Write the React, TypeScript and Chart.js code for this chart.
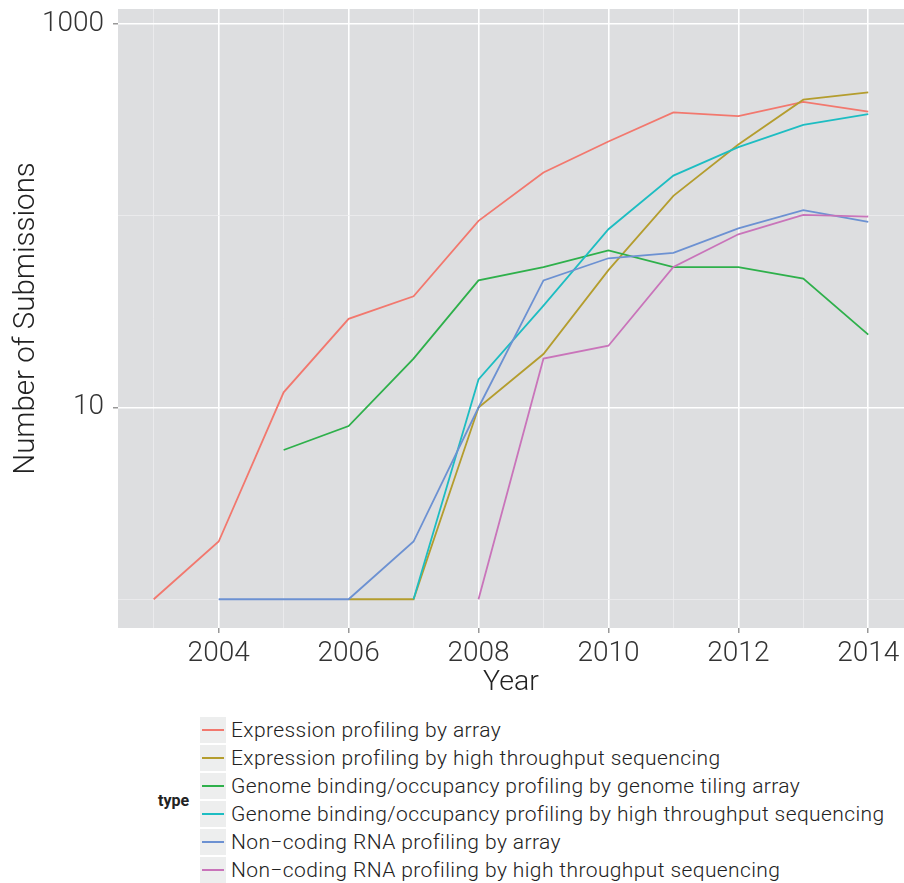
import React, { useEffect, useRef } from 'react';
import { Chart, registerables } from 'chart.js';

Chart.register(...registerables);

// ---- data ----
const years = [2003, 2004, 2005, 2006, 2007, 2008, 2009, 2010, 2011, 2012, 2013, 2014];
const exprArray = [1, 2, 12, 29, 38, 94, 168, 244, 346, 331, 392, 349];
const exprHTS = [null, null, null, 1, 1, 10, 19, 52, 127, 235, 403, 440];
const tilingArray = [null, null, 6, 8, 18, 46, 54, 66, 54, 54, 47, 24];
const bindingHTS = [null, null, null, null, 1, 14, 34, 85, 162, 228, 298, 339];
const ncArray = [null, 1, 1, 1, 2, 10, 46, 60, 64, 86, 107, 93];
const ncHTS = [null, null, null, null, null, 1, 18, 21, 54, 80, 101, 99];

const seriesNames = [
  'Expression profiling by array',
  'Expression profiling by high throughput sequencing',
  'Genome binding/occupancy profiling by genome tiling array',
  'Genome binding/occupancy profiling by high throughput sequencing',
  'Non\u2212coding RNA profiling by array',
  'Non\u2212coding RNA profiling by high throughput sequencing',
];
const seriesColors = ['#F2786E', '#B49D2E', '#2EB04B', '#1DBDC2', '#6C91D2', '#C974BA'];

const yTickValues = [1, 10, 100, 1000];
const yLabeledValues = [10, 1000];
const xLabeledYears = [2004, 2006, 2008, 2010, 2012, 2014];

const FONT = 'Roboto';
const PANEL = '#DDDEE0';
const MINOR = '#EEEEEF';

export default function App() {
  const ref = useRef<HTMLCanvasElement>(null);

  useEffect(() => {
    const seriesValues = [exprArray, exprHTS, tilingArray, bindingHTS, ncArray, ncHTS];
    const datasets = seriesValues.map((vals, i) => ({
      label: seriesNames[i],
      data: years
        .map((yr, j) => ({ x: yr, y: vals[j] as number | null }))
        .filter((p) => p.y !== null),
      borderColor: seriesColors[i],
      backgroundColor: seriesColors[i],
      borderWidth: 1.8,
      pointRadius: 0,
      pointHoverRadius: 0,
      tension: 0,
      fill: false,
      order: -i,
    }));

    const panelBg = {
      id: 'panelBg',
      beforeDraw(chart: any) {
        const { ctx, chartArea: a } = chart;
        ctx.save();
        ctx.fillStyle = PANEL;
        ctx.fillRect(a.left, a.top, a.right - a.left, a.bottom - a.top);
        ctx.restore();
      },
    };

    const chart = new Chart(ref.current as HTMLCanvasElement, {
      type: 'line',
      data: { datasets: datasets as any },
      plugins: [panelBg],
      options: {
        animation: false,
        responsive: false,
        layout: { padding: { top: 9, right: 0, bottom: 0, left: 0 } },
        plugins: { legend: { display: false }, tooltip: { enabled: false } },
        scales: {
          x: {
            type: 'linear',
            min: 2002.45,
            max: 2014.55,
            bounds: 'data',
            afterBuildTicks: (s: any) => {
              s.ticks = years.map((v) => ({ value: v }));
            },
            afterFit: (s: any) => {
              s.height = 72;
              s.paddingLeft = 0;
              s.paddingRight = 0;
            },
            border: { display: false },
            grid: {
              color: (c: any) => (c.tick && xLabeledYears.includes(c.tick.value) ? '#FFFFFF' : MINOR),
              lineWidth: (c: any) => (c.tick && xLabeledYears.includes(c.tick.value) ? 1.6 : 0.8),
              tickColor: (c: any) => (c.tick && xLabeledYears.includes(c.tick.value) ? '#7F7F7F' : 'rgba(0,0,0,0)'),
              tickLength: 5,
              tickWidth: 1.2,
            },
            ticks: {
              autoSkip: false,
              maxRotation: 0,
              minRotation: 0,
              padding: 4,
              color: '#333333',
              font: { family: FONT, size: 28, weight: '300' as any },
              callback: (v: any) => (xLabeledYears.includes(Number(v)) ? String(v) : ''),
            },
            title: {
              display: true,
              text: 'Year',
              color: '#222222',
              font: { family: FONT, size: 28.5, weight: '300' as any },
              padding: { top: 0, bottom: 0 },
            },
          },
          y: {
            type: 'logarithmic',
            min: 0.708,
            max: 1197,
            bounds: 'data',
            afterBuildTicks: (s: any) => {
              s.ticks = yTickValues.map((v) => ({ value: v }));
            },
            afterFit: (s: any) => {
              s.width = 118;
              s.paddingTop = 0;
              s.paddingBottom = 0;
            },
            border: { display: false },
            grid: {
              color: (c: any) => (c.tick && yLabeledValues.includes(c.tick.value) ? '#FFFFFF' : MINOR),
              lineWidth: (c: any) => (c.tick && yLabeledValues.includes(c.tick.value) ? 1.6 : 0.8),
              tickColor: (c: any) => (c.tick && yLabeledValues.includes(c.tick.value) ? '#7F7F7F' : 'rgba(0,0,0,0)'),
              tickLength: 5,
              tickWidth: 1.2,
            },
            ticks: {
              autoSkip: false,
              padding: 9,
              color: '#333333',
              font: { family: FONT, size: 28, weight: '300' as any },
              callback: (v: any) => (yLabeledValues.includes(Number(v)) ? String(v) : ''),
            },
            title: {
              display: true,
              text: 'Number of Submissions',
              color: '#222222',
              font: { family: FONT, size: 29.5, weight: '300' as any },
              padding: { top: 9, bottom: 0 },
            },
          },
        },
      },
    });
    return () => chart.destroy();
  }, []);

  return (
    <div style={{ position: 'absolute', left: 0, top: 0, width: 904, height: 883, background: '#FFFFFF' }}>
      <canvas ref={ref} width={904} height={700} style={{ position: 'absolute', left: 0, top: 0, display: 'block' }} />
      <div
        style={{
          position: 'absolute',
          left: 158,
          top: 788,
          height: 26,
          lineHeight: '26px',
          fontFamily: FONT,
          fontWeight: 700,
          fontSize: 16,
          color: '#222222',
        }}
      >
        type
      </div>
      {seriesNames.map((name, i) => (
        <div
          key={name}
          style={{
            position: 'absolute',
            left: 200,
            top: 716 + 28 * i,
            height: 28,
            display: 'flex',
            alignItems: 'center',
            fontFamily: FONT,
            fontWeight: 300,
            fontSize: 21,
            letterSpacing: '0.4px',
            color: '#222222',
            whiteSpace: 'nowrap',
          }}
        >
          <div
            style={{
              width: 26,
              height: 26,
              background: '#EDEEEE',
              display: 'flex',
              alignItems: 'center',
              justifyContent: 'center',
            }}
          >
            <div style={{ width: 22, height: 2, background: seriesColors[i] }} />
          </div>
          <span style={{ marginLeft: 5 }}>{name}</span>
        </div>
      ))}
    </div>
  );
}
